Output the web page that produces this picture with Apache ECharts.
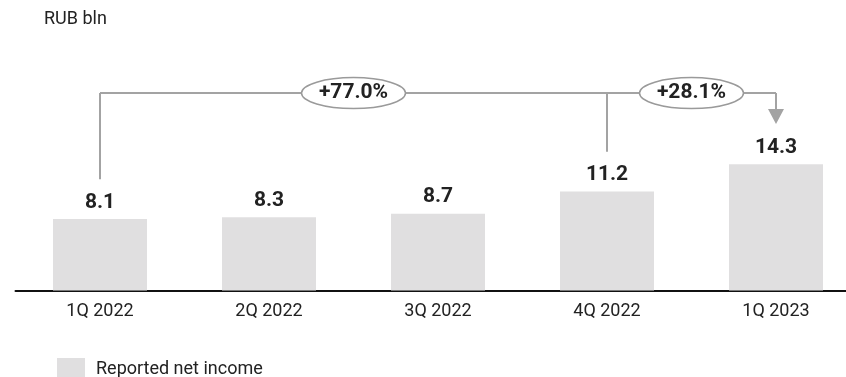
<!DOCTYPE html>
<html>
<head>
<meta charset="utf-8">
<script src="https://cdn.jsdelivr.net/npm/echarts@6/dist/echarts.min.js"></script>
<style>
html,body{margin:0;padding:0;background:#fff;}
#c{width:846px;height:377px;}
</style>
</head>
<body>
<div id="c"></div>
<script>
const categories = ['1Q 2022', '2Q 2022', '3Q 2022', '4Q 2022', '1Q 2023'];
const netIncome = [8.1, 8.3, 8.7, 11.2, 14.3];
const seriesName = 'Reported net income';
const unitLabel = 'RUB bln';
// growth brackets: [fromIndex, toIndex, label]
const growthFrom = [0, 3];
const growthTo = [3, 4];
const growthLabels = ['+77.0%', '+28.1%'];

const FONT = 'Roboto, "Noto Sans", sans-serif';
const chart = echarts.init(document.getElementById('c'), null, {renderer: 'canvas'});

const option = {
  animation: false,
  backgroundColor: '#ffffff',
  title: {
    text: unitLabel,
    left: 39, top: 5,
    textStyle: {fontFamily: FONT, fontSize: 18, fontWeight: 'normal', color: '#222'}
  },
  legend: {
    data: [seriesName],
    left: 52, top: 353,
    itemWidth: 28, itemHeight: 22,
    icon: 'rect',
    textStyle: {fontFamily: FONT, fontSize: 18, color: '#222', padding: [0, 0, 0, 6]}
  },
  grid: {left: 15.5, width: 845, top: 7.9, bottom: 86.5, containLabel: false, outerBoundsMode: 'none'},
  xAxis: {
    type: 'category',
    data: categories,
    axisLine: {show: true, lineStyle: {color: '#111', width: 2}},
    axisTick: {show: false},
    axisLabel: {fontFamily: FONT, fontSize: 18, color: '#222', margin: 12, interval: 0}
  },
  yAxis: {
    type: 'value', min: 0, max: 32,
    show: false,
    splitLine: {show: false}
  },
  series: [{
    name: seriesName,
    type: 'bar',
    data: netIncome,
    barWidth: 94,
    itemStyle: {color: '#e0dfe0'},
    label: {
      show: true, position: 'top', distance: 6,
      fontFamily: FONT, fontSize: 21, fontWeight: 'bold', color: '#222',
      formatter: p => p.value.toFixed(1)
    }
  }]
};
chart.setOption(option);

// annotation brackets, positioned through the chart's own scales
const LEVEL = 22.35;     // bracket height, in data units
const GAP = 4.5;         // gap above the bar value where lines end
const px = (i, v) => chart.convertToPixel({gridIndex: 0}, [i, v]);
const lineStyle = {stroke: '#a3a3a3', lineWidth: 2};
const els = [];
const firstX = px(growthFrom[0], LEVEL);
const lastIdx = growthTo[growthTo.length - 1];
const lastX = px(lastIdx, LEVEL);
// horizontal line
els.push({type: 'polyline', shape: {points: [firstX, lastX]}, style: lineStyle, z: 10});
// vertical lines from starting points
const starts = Array.from(new Set(growthFrom));
starts.forEach(i => {
  const top = px(i, LEVEL);
  const bot = px(i, netIncome[i] + GAP);
  els.push({type: 'polyline', shape: {points: [top, bot]}, style: lineStyle, z: 10});
});
// arrow to the last bar
const tip = px(lastIdx, netIncome[lastIdx] + GAP + 0.05);
const headH = 15, headW = 8;
els.push({type: 'polyline', shape: {points: [lastX, [tip[0], tip[1] - headH]]}, style: lineStyle, z: 10});
els.push({type: 'polygon', shape: {points: [[tip[0] - headW, tip[1] - headH], [tip[0] + headW, tip[1] - headH], [tip[0], tip[1]]]},
  style: {fill: '#a3a3a3'}, z: 10});
// ellipses with labels
growthLabels.forEach((lab, k) => {
  const a = px(growthFrom[k], LEVEL), b = px(growthTo[k], LEVEL);
  const cx = (a[0] + b[0]) / 2, cy = a[1];
  els.push({type: 'ellipse', shape: {cx: cx, cy: cy, rx: 52, ry: 15.5},
    style: {fill: '#fff', stroke: '#9a9a9a', lineWidth: 1.5}, z: 11});
  els.push({type: 'text', x: cx, y: cy, z: 12,
    style: {text: lab, align: 'center', verticalAlign: 'middle',
      font: 'bold 21px ' + FONT, fill: '#222'}});
});
chart.setOption({graphic: {elements: els}});
</script>
</body>
</html>
